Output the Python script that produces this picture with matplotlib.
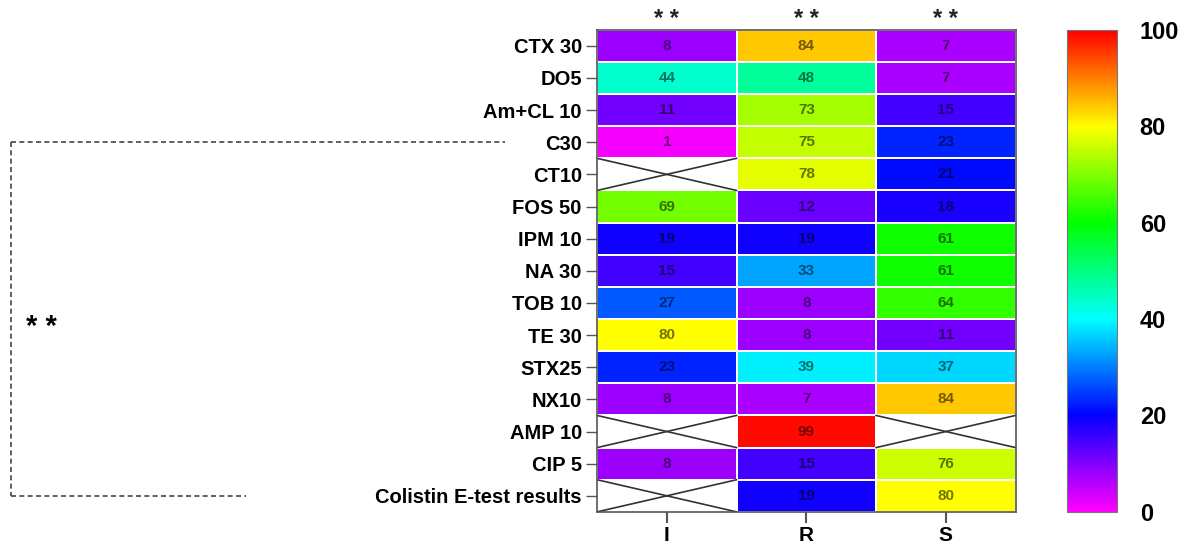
import numpy as np
import matplotlib.pyplot as plt
from matplotlib.colors import LinearSegmentedColormap
from matplotlib.transforms import blended_transform_factory

plt.rcParams['font.family'] = ['Liberation Sans', 'DejaVu Sans']

antibiotics = ['CTX 30', 'DO5', 'Am+CL 10', 'C30', 'CT10', 'FOS 50', 'IPM 10',
               'NA 30', 'TOB 10', 'TE 30', 'STX25', 'NX10', 'AMP 10', 'CIP 5',
               'Colistin E-test results']
categories = ['I', 'R', 'S']
nan = np.nan
col_I = [8, 44, 11, 1, nan, 69, 19, 15, 27, 80, 23, 8, nan, 8, nan]
col_R = [84, 48, 73, 75, 78, 12, 19, 33, 8, 8, 39, 7, 99, 15, 19]
col_S = [7, 7, 15, 23, 21, 18, 61, 61, 64, 11, 37, 84, nan, 76, 80]
col_marks = ['* *', '* *', '* *']
bracket_rows = ('C30', 'Colistin E-test results')
bracket_mark = '* *'
cbar_ticks = [0, 20, 40, 60, 80, 100]

values = np.array([col_I, col_R, col_S]).T

# magenta -> blue -> cyan -> green -> yellow -> red
cmap = LinearSegmentedColormap.from_list(
    'prism', ['#ff00ff', '#0000ff', '#00ffff', '#00ff00', '#ffff00', '#ff0000'])
cmap.set_bad('white')

fig = plt.figure(figsize=(11.99, 5.51), dpi=100)
ax = fig.add_axes([0.498, 0.071, 0.349, 0.875])
cax = fig.add_axes([0.890, 0.071, 0.042, 0.875])

nrows, ncols = values.shape
im = ax.pcolormesh(np.arange(ncols + 1) - 0.5, np.arange(nrows + 1) - 0.5,
                   np.ma.masked_invalid(values), cmap=cmap, vmin=0, vmax=100,
                   edgecolor='white', linewidth=1.2)
ax.set_xlim(-0.5, ncols - 0.5)
ax.set_ylim(nrows - 0.5, -0.5)

for i in range(nrows):
    for j in range(ncols):
        v = values[i, j]
        if np.isnan(v):
            ax.plot([j - 0.5, j + 0.5], [i - 0.5, i + 0.5], color='#333333', lw=1.2)
            ax.plot([j - 0.5, j + 0.5], [i + 0.5, i - 0.5], color='#333333', lw=1.2)
        else:
            ax.text(j, i, f'{int(v)}', ha='center', va='center', fontsize=11,
                    fontweight='bold', color='black', alpha=0.55)

ax.set_yticks(range(nrows))
ax.set_yticklabels(antibiotics, fontsize=14.5, fontweight='bold')
ax.set_xticks(range(ncols))
ax.set_xticklabels(categories, fontsize=15, fontweight='bold')
ax.tick_params(axis='y', length=8, width=1, color='#555555', pad=3)
ax.tick_params(axis='x', length=8, width=1.5, color='#555555', pad=2)
for s in ax.spines.values():
    s.set_color('#555555')
    s.set_linewidth(1.2)

for j, m in enumerate(col_marks):
    ax.text(j, -0.45, m, ha='center', va='bottom', fontsize=17,
            fontweight='bold', color='#222222')

# dashed bracket on the left
tr = blended_transform_factory(ax.transAxes, ax.transData)
r0 = antibiotics.index(bracket_rows[0])
r1 = antibiotics.index(bracket_rows[1])
dash = dict(color='#444444', lw=1.2, ls=(0, (3, 2)), transform=tr, clip_on=False)
ax.plot([-1.40, -0.22], [r0, r0], **dash)
ax.plot([-1.40, -1.40], [r0, r1], **dash)
ax.plot([-1.40, -0.84], [r1, r1], **dash)
ax.text(-1.365, (r0 + r1) / 2 + 0.25, bracket_mark, transform=tr, fontsize=21,
        fontweight='bold', ha='left', va='center')

cb = fig.colorbar(im, cax=cax, ticks=cbar_ticks)
cb.outline.set_edgecolor('#777777')
cax.tick_params(labelsize=17, length=0, pad=16)
for t in cax.get_yticklabels():
    t.set_fontweight('bold')

plt.savefig('out.png', dpi=100)
